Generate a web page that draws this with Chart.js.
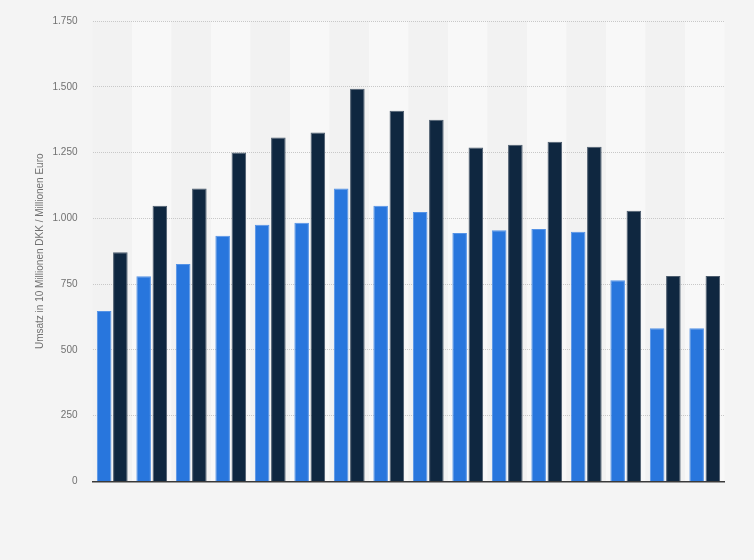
<!DOCTYPE html>
<html>
<head>
<meta charset="utf-8">
<script src="https://cdn.jsdelivr.net/npm/chart.js@4/dist/chart.umd.min.js"></script>
<style>
	html, body { margin: 0; padding: 0; background: #f4f4f4; }
	#wrap { width: 754px; height: 560px; position: relative; }
</style>
</head>
<body>
<div id="wrap"><canvas id="umsatzChart"></canvas></div>
<script>
// 16 periods, no axis labels shown in the source picture
const categories = ['1', '2', '3', '4', '5', '6', '7', '8', '9', '10', '11', '12', '13', '14', '15', '16'];
const umsatzDkk = [648, 780, 827, 934, 976, 983, 1113, 1048, 1024, 944, 955, 960, 949, 765, 582, 582];
const umsatzEuro = [871, 1048, 1113, 1250, 1307, 1326, 1493, 1409, 1375, 1269, 1280, 1291, 1272, 1029, 781, 781];
const yTicks = [0, 250, 500, 750, 1000, 1250, 1500, 1750];

function formatDe(v) {
	return v.toString().replace(/\B(?=(\d{3})+(?!\d))/g, '.');
}

// page background plus alternating column stripes
const stripes = {
	id: 'stripes',
	beforeDraw(chart) {
		const ctx = chart.ctx;
		const area = chart.chartArea;
		const x = chart.scales.x;
		ctx.save();
		ctx.fillStyle = '#f4f4f4';
		ctx.fillRect(0, 0, chart.width, chart.height);
		const w = x.width / categories.length;
		categories.forEach((c, i) => {
			ctx.fillStyle = i % 2 === 0 ? '#f2f2f2' : '#f8f8f8';
			ctx.fillRect(x.getPixelForValue(i) - w / 2, area.top, w, area.bottom - area.top);
		});
		ctx.restore();
	}
};

new Chart(document.getElementById('umsatzChart'), {
	type: 'bar',
	data: {
		labels: categories,
		datasets: [{
			label: 'Umsatz in 10 Millionen DKK',
			data: umsatzDkk,
			backgroundColor: '#2876dd',
			borderColor: '#5593e6',
			borderWidth: 1,
			categoryPercentage: 0.82,
			barPercentage: 0.9
		}, {
			label: 'Umsatz in Millionen Euro',
			data: umsatzEuro,
			backgroundColor: '#0f2740',
			borderColor: '#4d5d6e',
			borderWidth: 1,
			categoryPercentage: 0.82,
			barPercentage: 0.9
		}]
	},
	options: {
		responsive: true,
		maintainAspectRatio: false,
		animation: false,
		layout: {
			padding: { left: 0, right: 29.5, top: 20, bottom: 70.5 }
		},
		plugins: {
			legend: { display: false },
			tooltip: { enabled: false }
		},
		scales: {
			x: {
				grid: { display: false },
				ticks: { display: false },
				border: { display: true, color: '#3a3a3a', width: 1.5 }
			},
			y: {
				min: 0,
				max: 1750,
				afterFit(scale) { scale.width = 92.5; },
				afterBuildTicks(scale) { scale.ticks = yTicks.map(v => ({ value: v })); },
				border: { display: false, dash: [1, 1] },
				grid: {
					color: '#c8c8c8',
					lineWidth: 1,
					drawTicks: false
				},
				ticks: {
					padding: 15,
					color: '#707070',
					font: { family: 'Arial, "Liberation Sans", sans-serif', size: 10 },
					callback: v => formatDe(v)
				},
				title: {
					display: true,
					text: 'Umsatz in 10 Millionen DKK / Millionen Euro',
					color: '#707070',
					font: { family: 'Arial, "Liberation Sans", sans-serif', size: 10 },
					padding: { top: 34, bottom: 0 }
				}
			}
		}
	},
	plugins: [stripes]
});
</script>
</body>
</html>
